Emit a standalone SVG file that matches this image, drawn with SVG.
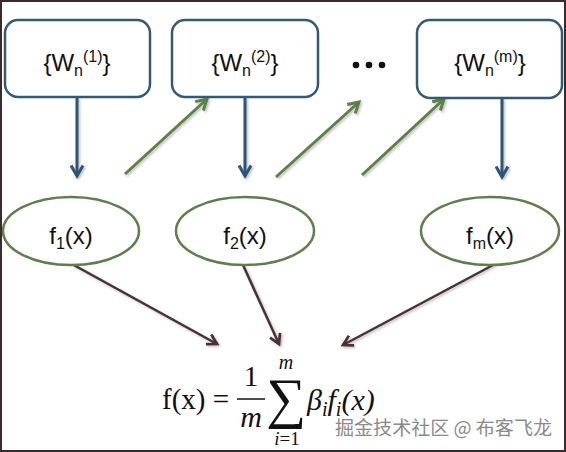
<svg xmlns="http://www.w3.org/2000/svg" width="566" height="452" viewBox="0 0 566 452">
<style>
.box{fill:#fff;stroke:#345a73;stroke-width:2.5}
.ell{fill:#fff;stroke:#5e7f4c;stroke-width:2.5}
.lbl{font-family:"Liberation Sans",Arial,sans-serif;font-size:24px;fill:#111;text-anchor:middle}
.sm{font-size:16px}
.blue{stroke:#2f5572;stroke-width:3;fill:none}
.green{stroke:#5f7f4a;stroke-width:3;fill:none}
.brown{stroke:#4a3036;stroke-width:2.5;fill:none}
.math{font-family:"Liberation Serif","DejaVu Serif",serif;fill:#111}
.it{font-style:italic}
</style>
<defs>
<filter id="sh" x="-10%" y="-10%" width="120%" height="120%">
<feDropShadow dx="1.5" dy="1.5" stdDeviation="1" flood-color="#000" flood-opacity="0.25"/>
</filter>
<marker id="mb" viewBox="0 0 10 10" refX="8" refY="5" markerWidth="5" markerHeight="5" orient="auto" markerUnits="strokeWidth">
<path d="M1,1 L8,5 L1,9" fill="none" stroke="#2f5572" stroke-width="2"/>
</marker>
<marker id="mg" viewBox="0 0 10 10" refX="8" refY="5" markerWidth="5" markerHeight="5" orient="auto" markerUnits="strokeWidth">
<path d="M1,1 L8,5 L1,9" fill="none" stroke="#5f7f4a" stroke-width="2"/>
</marker>
<marker id="mr" viewBox="0 0 10 10" refX="8" refY="5" markerWidth="5.5" markerHeight="5.5" orient="auto" markerUnits="strokeWidth">
<path d="M1,1 L8,5 L1,9" fill="none" stroke="#4a3036" stroke-width="2"/>
</marker>
</defs>
<rect x="0" y="0" width="566" height="452" fill="#fff"/>
<rect x="1" y="1" width="564" height="450" fill="none" stroke="#3a2a30" stroke-width="2"/>

<g id="connectors" filter="url(#sh)">
<line class="blue" x1="77" y1="97" x2="77" y2="176" marker-end="url(#mb)"/>
<line class="blue" x1="245" y1="97" x2="245" y2="176" marker-end="url(#mb)"/>
<line class="blue" x1="502" y1="98" x2="502" y2="177" marker-end="url(#mb)"/>
<line class="green" x1="125" y1="174" x2="207" y2="99" marker-end="url(#mg)"/>
<line class="green" x1="276" y1="177" x2="359" y2="102" marker-end="url(#mg)"/>
<line class="green" x1="362" y1="175" x2="444" y2="99" marker-end="url(#mg)"/>
<line class="brown" x1="72" y1="264" x2="217" y2="344" marker-end="url(#mr)"/>
<line class="brown" x1="243" y1="265" x2="279" y2="344" marker-end="url(#mr)"/>
<line class="brown" x1="495" y1="264" x2="343" y2="345" marker-end="url(#mr)"/>
</g>

<g id="w1">
<rect class="box" x="5" y="20" width="145" height="77" rx="13"/>
<text class="lbl" x="77" y="71">{W<tspan class="sm" dy="5">n</tspan><tspan class="sm" dy="-14">(1)</tspan><tspan dy="9">}</tspan></text>
</g>
<g id="w2">
<rect class="box" x="172" y="20" width="146" height="77" rx="13"/>
<text class="lbl" x="245" y="71">{W<tspan class="sm" dy="5">n</tspan><tspan class="sm" dy="-14">(2)</tspan><tspan dy="9">}</tspan></text>
</g>
<g id="dots">
<circle cx="356" cy="65" r="3.3" fill="#111"/>
<circle cx="369" cy="65" r="3.3" fill="#111"/>
<circle cx="382" cy="65" r="3.3" fill="#111"/>
</g>
<g id="wm">
<rect class="box" x="417" y="20" width="145" height="78" rx="13"/>
<text class="lbl" x="490" y="71">{W<tspan class="sm" dy="5">n</tspan><tspan class="sm" dy="-14">(m)</tspan><tspan dy="9">}</tspan></text>
</g>

<g id="f1">
<ellipse class="ell" cx="71" cy="231" rx="68" ry="34"/>
<text class="lbl" x="71" y="244">f<tspan class="sm" dy="5">1</tspan><tspan dy="-5">(x)</tspan></text>
</g>
<g id="f2">
<ellipse class="ell" cx="245" cy="231" rx="69" ry="34"/>
<text class="lbl" x="245" y="244">f<tspan class="sm" dy="5">2</tspan><tspan dy="-5">(x)</tspan></text>
</g>
<g id="fm">
<ellipse class="ell" cx="490" cy="231" rx="69" ry="34"/>
<text class="lbl" x="490" y="244">f<tspan class="sm" dy="5">m</tspan><tspan dy="-5">(x)</tspan></text>
</g>

<g id="formula" class="math">
<text x="162" y="409" font-size="29">f(x) =</text>
<text x="251" y="386" font-size="29" text-anchor="middle">1</text>
<line x1="237" y1="399" x2="265" y2="399" stroke="#111" stroke-width="1.5"/>
<text x="251" y="427" font-size="30" text-anchor="middle" class="it">m</text>
<text x="286" y="369" font-size="20" text-anchor="middle" class="it">m</text>
<text x="286" y="417" font-size="56" text-anchor="middle">∑</text>
<text x="287" y="445" font-size="19" text-anchor="middle"><tspan class="it">i</tspan>=1</text>
<text x="307" y="410" font-size="30" class="it">β<tspan font-size="20" dy="6">i</tspan><tspan dy="-6">f</tspan><tspan font-size="20" dy="6">i</tspan><tspan dy="-6">(x)</tspan></text>
</g>
<text x="335" y="435" font-family="'Noto Sans CJK SC',sans-serif" font-size="19" fill="#8a8a8a" textLength="217" lengthAdjust="spacingAndGlyphs">掘金技术社区 @ 布客飞龙</text>
</svg>
